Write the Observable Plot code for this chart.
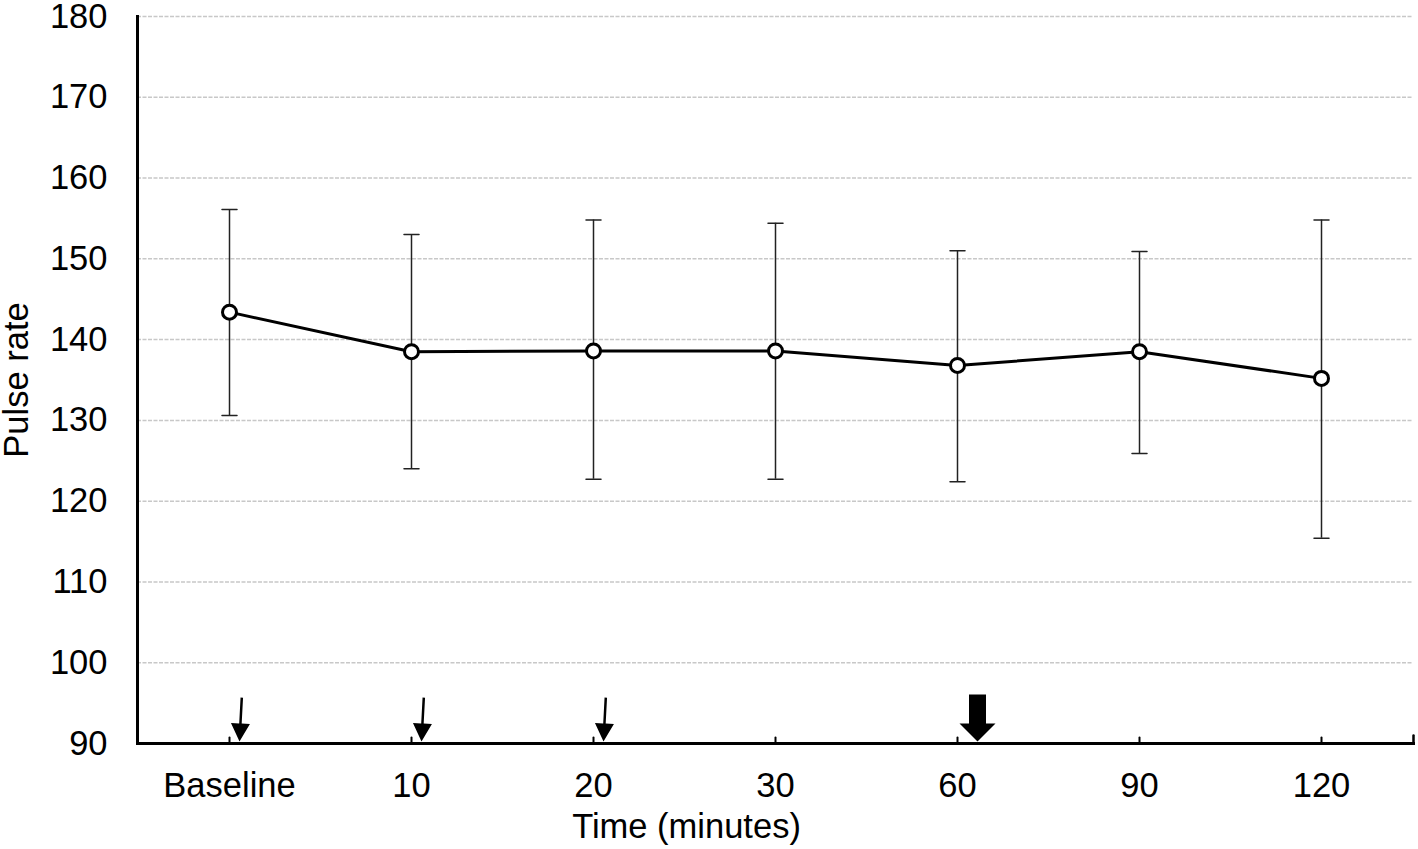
<!DOCTYPE html>
<html><head><meta charset="utf-8">
<script src="https://cdn.jsdelivr.net/npm/d3@7"></script>
<script src="https://cdn.jsdelivr.net/npm/@observablehq/plot@0.6"></script>
<style>body{margin:0;background:#fff;}</style>
</head><body><div id="chart"></div>
<script>
const times = ["Baseline", "10", "20", "30", "60", "90", "120"];
const meanRate = [143.4, 138.5, 138.6, 138.6, 136.8, 138.5, 135.2];
const upperRate = [156.1, 153.0, 154.8, 154.4, 151.0, 150.9, 154.8];
const lowerRate = [130.6, 124.0, 122.7, 122.7, 122.4, 125.9, 115.4];
const yTicks = [90, 100, 110, 120, 130, 140, 150, 160, 170, 180];
const gridTicks = [100, 110, 120, 130, 140, 150, 160, 170, 180];
const thinArrowTimes = ["Baseline", "10", "20"];
const boldArrowTimes = ["60"];
const yLabel = "Pulse rate";
const xLabel = "Time (minutes)";

const rows = times.map((t, i) => ({time: t, mean: meanRate[i], hi: upperRate[i], lo: lowerRate[i]}));

function arrowShape(shaft, headW, headH) {
  return {draw(ctx, l) {
    ctx.moveTo(-shaft / 2, 0);
    ctx.lineTo(shaft / 2, 0);
    ctx.lineTo(shaft / 2, -l + headH);
    ctx.lineTo(headW / 2, -l + headH);
    ctx.lineTo(0, -l);
    ctx.lineTo(-headW / 2, -l + headH);
    ctx.lineTo(-shaft / 2, -l + headH);
    ctx.closePath();
  }};
}
const lineShape = {draw(ctx, l) { ctx.moveTo(0, 0); ctx.lineTo(0, -l); }};
const font = "'Liberation Sans', Arial, sans-serif";
const fs = 34.5;

const chart = Plot.plot({
  width: 1418, height: 849,
  marginLeft: 137, marginRight: 5, marginTop: 16, marginBottom: 106,
  style: {fontFamily: font, fontSize: fs + "px", color: "#000", background: "#fff"},
  x: {type: "point", domain: times, padding: 0.5},
  y: {domain: [90, 180]},
  marks: [
    Plot.gridY(gridTicks, {stroke: "#c8c8c8", strokeOpacity: 1, strokeWidth: 1.5, strokeDasharray: "4,1.5"}),
    Plot.axisY(yTicks, {tickSize: 0, tickPadding: 30, fontSize: fs, label: null}),
    Plot.axisX({tickSize: 0, tickPadding: 29, fontSize: fs, label: null}),
    Plot.ruleX(rows, {x: "time", y1: "lo", y2: "hi", stroke: "#222", strokeWidth: 1.5}),
    Plot.vector(rows, {x: "time", y: "hi", length: 15, rotate: 90, anchor: "middle", shape: lineShape, stroke: "#222", strokeWidth: 1.5}),
    Plot.vector(rows, {x: "time", y: "lo", length: 15, rotate: 90, anchor: "middle", shape: lineShape, stroke: "#222", strokeWidth: 1.5}),
    Plot.line(rows, {x: "time", y: "mean", stroke: "#000", strokeWidth: 3}),
    Plot.dot(rows, {x: "time", y: "mean", r: 7, fill: "white", stroke: "#000", strokeWidth: 3}),
    Plot.frame({anchor: "left", stroke: "#000", strokeWidth: 3}),
    Plot.frame({anchor: "bottom", stroke: "#000", strokeWidth: 3}),
    Plot.vector(times, {x: d => d, frameAnchor: "bottom", length: 6, anchor: "start", shape: lineShape, stroke: "#000", strokeWidth: 2}),
    Plot.vector([0], {frameAnchor: "bottom-right", length: 8, anchor: "start", shape: lineShape, stroke: "#000", strokeWidth: 2.5}),
    Plot.vector(thinArrowTimes, {x: d => d, y: () => 90, dx: 10, dy: -2, length: 44, rotate: 183, anchor: "end", shape: arrowShape(2.5, 19, 18), fill: "#000", stroke: "none"}),
    Plot.vector(boldArrowTimes, {x: d => d, y: () => 90, dx: 20, dy: -2, length: 47, rotate: 180, anchor: "end", shape: arrowShape(17, 36, 18), fill: "#000", stroke: "none"}),
    Plot.text([yLabel], {frameAnchor: "left", textAnchor: "middle", lineAnchor: "middle", dx: -121, rotate: -90, fontSize: fs, fill: "#000"}),
    Plot.text([xLabel], {frameAnchor: "bottom", textAnchor: "middle", lineAnchor: "middle", dx: -89, dy: 83, fontSize: fs, fill: "#000"})
  ]
});
document.getElementById("chart").appendChild(chart);
</script>
</body></html>
